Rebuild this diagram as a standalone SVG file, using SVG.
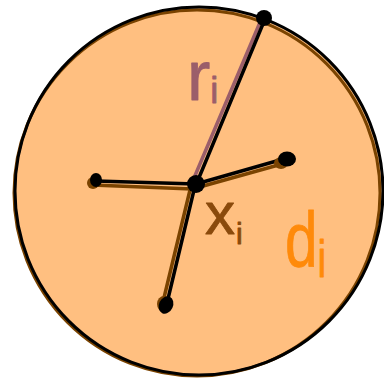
<svg xmlns="http://www.w3.org/2000/svg" width="384" height="381" viewBox="0 0 384 381">
<style>
.edge{stroke:#000;stroke-width:3.5;stroke-linecap:round;fill:none}
.shadow{stroke:#7a4300;stroke-width:3.5;stroke-linecap:round;fill:none}
.dot{fill:#000}
.dotsh{fill:#7a4300}
.lbl{font-family:"Liberation Sans","DejaVu Sans",sans-serif;stroke-width:0.8;stroke-linejoin:round}
</style>
<rect width="384" height="381" fill="#fff"/>
<g id="region">
<circle cx="199" cy="192" r="184" fill="#ffbf80"/>
<circle cx="197" cy="193" r="183" fill="none" stroke="#7a4300" stroke-width="3"/>
<circle cx="199" cy="191" r="184" fill="none" stroke="#000" stroke-width="3"/>
</g>
<g id="connectors">
<line class="shadow" x1="92" y1="185" x2="192" y2="189"/>
<line class="shadow" x1="162" y1="306" x2="190" y2="190"/>
<line class="shadow" x1="196" y1="188" x2="282" y2="164"/>
<line x1="194" y1="178" x2="261" y2="20" stroke="#9b5e6a" stroke-width="3.5" stroke-linecap="round"/>
<line class="edge" x1="198" y1="180" x2="265" y2="19"/>
<line class="edge" x1="96" y1="181" x2="196" y2="184"/>
<line class="edge" x1="196" y1="184" x2="287" y2="158"/>
<line class="edge" x1="194" y1="190" x2="167" y2="303"/>
</g>
<g id="center">
<circle class="dot" cx="196" cy="184" r="9"/>
<text class="lbl" x="205" y="234" font-size="60" fill="#8a4a0c" stroke="#8a4a0c">x<tspan font-size="30" dx="1" dy="10">i</tspan></text>
</g>
<g id="top">
<circle class="dot" cx="264" cy="18" r="8"/>
</g>
<g id="right">
<ellipse class="dotsh" cx="281" cy="163" rx="7" ry="6"/>
<ellipse class="dot" cx="287" cy="159" rx="9" ry="7.5"/>
</g>
<g id="left">
<ellipse class="dotsh" cx="93" cy="183" rx="6" ry="6"/>
<ellipse class="dot" cx="96" cy="180" rx="6" ry="7"/>
</g>
<g id="bottom">
<ellipse class="dotsh" cx="164" cy="304" rx="7" ry="8"/>
<ellipse class="dot" cx="166" cy="305" rx="9" ry="7" transform="rotate(-65 166 305)"/>
</g>
<g id="labels">
<text class="lbl" x="187" y="100" font-size="70" fill="#9b5e6a" stroke="#9b5e6a">r<tspan font-size="36" dx="0" dy="3">i</tspan></text>
<text class="lbl" transform="translate(285 267) scale(0.75 1)" x="0" y="0" font-size="78" fill="#ff8a0a" stroke="#ff8a0a">d<tspan font-size="52" dy="10">i</tspan></text>
</g>
</svg>
